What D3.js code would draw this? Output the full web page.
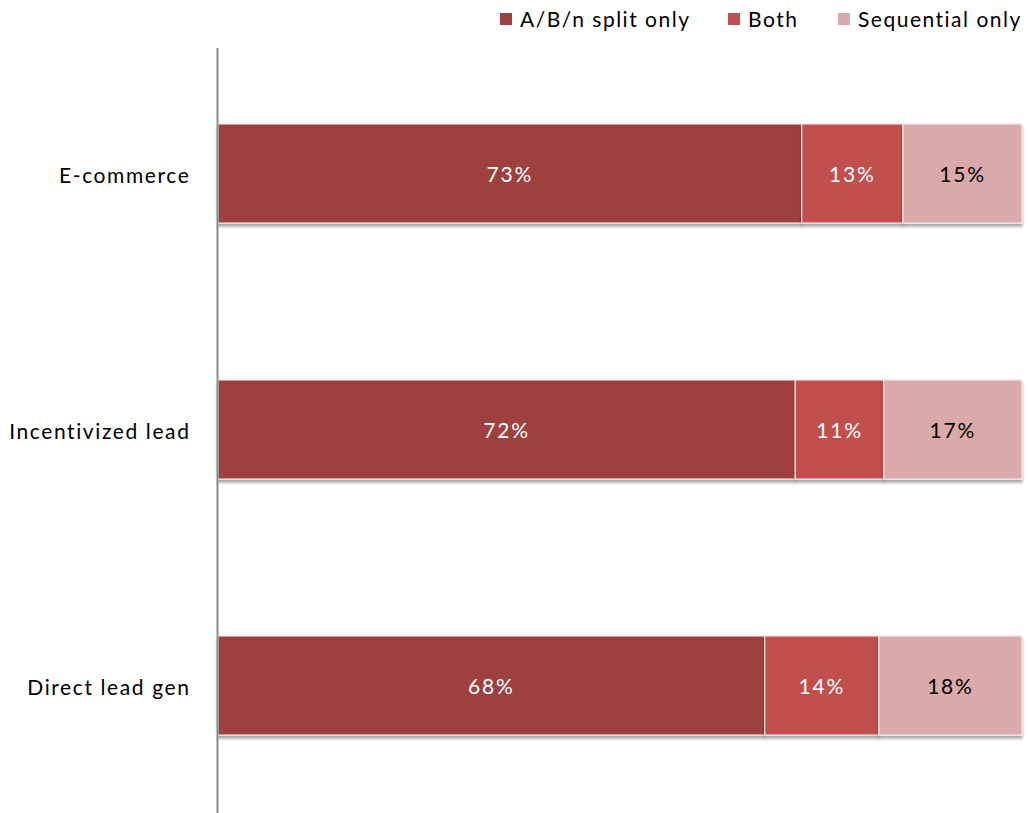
<!DOCTYPE html>
<html><head><meta charset="utf-8">
<script src="https://cdn.jsdelivr.net/npm/d3@7"></script>
<style>body{margin:0;background:#fff}svg{display:block}text{font-family:Lato,"Open Sans",sans-serif}</style>
</head><body><div id="chart"></div>
<script>
const categories = ["E-commerce", "Incentivized lead", "Direct lead gen"];
const seriesNames = ["A/B/n split only", "Both", "Sequential only"];
const abSplit = [72.6, 71.8, 68.0];
const both = [12.6, 11.0, 14.2];
const sequential = [14.8, 17.2, 17.8];
const colors = ["#9e403f", "#c0504d", "#d9aaa9"];
const labelColors = ["#ffffff", "#ffffff", "#000000"];

const W = 1028, H = 813;
const svg = d3.select("#chart").append("svg").attr("width", W).attr("height", H);
const defs = svg.append("defs");
const f = defs.append("filter").attr("id","sh").attr("x","-5%").attr("y","-10%").attr("width","110%").attr("height","130%");
f.append("feDropShadow").attr("dx",0).attr("dy",3).attr("stdDeviation",1.8).attr("flood-color","#000").attr("flood-opacity",0.35);

const rows = categories.map((c,i)=>({cat:c, "A/B/n split only":abSplit[i], "Both":both[i], "Sequential only":sequential[i]}));
const stack = d3.stack().keys(seriesNames).offset(d3.stackOffsetExpand)(rows);

const x = d3.scaleLinear().domain([0,1]).range([218, 1022]);
const y = d3.scaleBand().domain(categories).range([45.5, 813.5]).paddingInner(0.613).paddingOuter(0.3065);

// bars
const g = svg.append("g");
stack.forEach((s, si) => {
  const sg = g.append("g").attr("filter","url(#sh)");
  sg.selectAll("rect").data(s).join("rect")
    .attr("x", d => x(d[0])).attr("y", d => y(d.data.cat))
    .attr("width", d => x(d[1]) - x(d[0])).attr("height", y.bandwidth())
    .attr("fill", colors[si]).attr("stroke", "#f4e6e6").attr("stroke-width", 1.2);
});
stack.forEach((s, si) => {
  g.append("g").selectAll("text").data(s).join("text")
    .attr("x", d => (x(d[0]) + x(d[1]))/2).attr("y", d => y(d.data.cat) + y.bandwidth()/2 + 1)
    .attr("dy","0.35em").attr("text-anchor","middle").attr("font-size", 21)
    .attr("letter-spacing", "1.8px")
    .attr("fill", labelColors[si])
    .text(d => d3.format(".0f")(d.data[s.key]) + "%");
});

// axis
const ax = svg.append("g").attr("transform","translate(217.5,0)")
  .call(d3.axisLeft(y).tickSize(0).tickPadding(27));
ax.select(".domain").attr("d","M0,48V813").attr("stroke","#8c8c8c").attr("stroke-width",2);
ax.selectAll("text").attr("font-size",21).attr("fill","#000").attr("letter-spacing","1.6px")
  .attr("dy","0.45em").style("font-family","Lato,'Open Sans',sans-serif");

// legend
const legendX = [500, 728, 838];
const lg = svg.append("g");
seriesNames.forEach((n,i)=>{
  lg.append("rect").attr("x",legendX[i]).attr("y",13).attr("width",12).attr("height",12).attr("fill",colors[i]);
  lg.append("text").attr("x",legendX[i]+20).attr("y",19).attr("dy","0.38em").attr("font-size",21)
    .attr("letter-spacing","1.5px").attr("fill","#000").text(n);
});
</script></body></html>
